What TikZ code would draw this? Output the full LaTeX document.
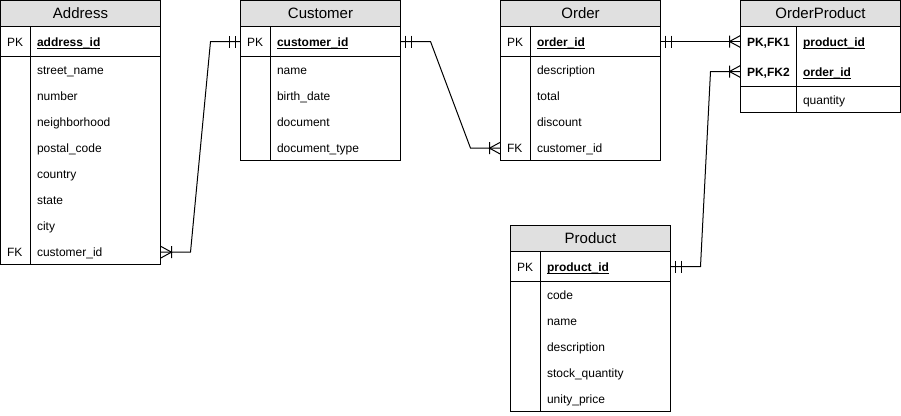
\documentclass[tikz,border=0pt]{standalone}
\usepackage{fontspec}
\setmainfont{Liberation Sans}
\usepackage{xcolor}
\usepackage{tikz}
\usetikzlibrary{positioning, calc}

\definecolor{hdrgray}{HTML}{E0E0E0}
\newcommand{\keyfield}[1]{\setbox0\hbox{\bfseries #1}\rlap{\vrule height -1.3pt depth 2.3pt width \wd0}\box0}

\begin{document}
\begin{tikzpicture}[
    x=1pt, y=-1pt, line width=1pt,
    tbl_head/.style={draw, fill=hdrgray, minimum width=160, minimum height=26, anchor=north west,
        inner sep=0, outer sep=0, text depth=0pt, font=\fontsize{15}{15}\selectfont},
    tbl_box/.style={draw, minimum width=160, anchor=north west, inner sep=0, outer sep=0},
    field_style/.style={anchor=base west, inner sep=0, font=\fontsize{12}{12}\selectfont},
    bold_style/.style={field_style, font=\fontsize{12}{12}\selectfont\bfseries},
    ermandone/.pic={\draw (5,-6) -- (5,6) (11,-6) -- (11,6);},
    ermany/.pic={\draw (0,-6) -- (11,0) -- (0,6) (11,-6) -- (11,6);}
]
    \useasboundingbox (0,0) rectangle (901,415);

    % Address
    \node[tbl_head] (addr-h) at (0.5,0.5) {Address};
    \node[tbl_box, minimum height=30] (addr-k) at (addr-h.south west) {};
    \node[tbl_box, minimum height=208] (addr-b) at (addr-k.south west) {};
    \draw ($(addr-k.north west)+(30,0)$) -- ($(addr-b.south west)+(30,0)$);
    \node[field_style] (addr-pk) at ($(addr-k.west)+(6,4.8)$) {PK};
    \node[bold_style] (addr-id) at ($(addr-k.west)+(36,4.8)$) {\keyfield{address\_id}};
    \foreach \fld [count=\i] in {street\_name, number, neighborhood, postal\_code, country, state, city, customer\_id}
        \node[field_style] (addr-\i) at ($(addr-b.north west)+(36,\i*26-13+4.8)$) {\fld};
    \node[field_style] (addr-fk) at ($(addr-b.north west)+(6,8*26-13+4.8)$) {FK};

    % Customer
    \node[tbl_head] (cust-h) at (240.5,0.5) {Customer};
    \node[tbl_box, minimum height=30] (cust-k) at (cust-h.south west) {};
    \node[tbl_box, minimum height=104] (cust-b) at (cust-k.south west) {};
    \draw ($(cust-k.north west)+(30,0)$) -- ($(cust-b.south west)+(30,0)$);
    \node[field_style] (cust-pk) at ($(cust-k.west)+(6,4.8)$) {PK};
    \node[bold_style] (cust-id) at ($(cust-k.west)+(36,4.8)$) {\keyfield{customer\_id}};
    \foreach \fld [count=\i] in {name, birth\_date, document, document\_type}
        \node[field_style] (cust-\i) at ($(cust-b.north west)+(36,\i*26-13+4.8)$) {\fld};

    % Order
    \node[tbl_head] (ord-h) at (500.5,0.5) {Order};
    \node[tbl_box, minimum height=30] (ord-k) at (ord-h.south west) {};
    \node[tbl_box, minimum height=104] (ord-b) at (ord-k.south west) {};
    \draw ($(ord-k.north west)+(30,0)$) -- ($(ord-b.south west)+(30,0)$);
    \node[field_style] (ord-pk) at ($(ord-k.west)+(6,4.8)$) {PK};
    \node[bold_style] (ord-id) at ($(ord-k.west)+(36,4.8)$) {\keyfield{order\_id}};
    \foreach \fld [count=\i] in {description, total, discount, customer\_id}
        \node[field_style] (ord-\i) at ($(ord-b.north west)+(36,\i*26-13+4.8)$) {\fld};
    \node[field_style] (ord-fk) at ($(ord-b.north west)+(6,4*26-13+4.8)$) {FK};

    % OrderProduct
    \node[tbl_head] (op-h) at (740.5,0.5) {OrderProduct};
    \node[tbl_box, minimum height=60] (op-k) at (op-h.south west) {};
    \node[tbl_box, minimum height=26] (op-b) at (op-k.south west) {};
    \draw ($(op-k.north west)+(56,0)$) -- ($(op-b.south west)+(56,0)$);
    \coordinate (op-r1) at ($(op-k.north west)+(0,15)$);
    \coordinate (op-r2) at ($(op-k.north west)+(0,45)$);
    \node[bold_style] (op-pf1) at ($(op-r1)+(6,4.8)$) {PK,FK1};
    \node[bold_style] (op-pid) at ($(op-r1)+(62,4.8)$) {\keyfield{product\_id}};
    \node[bold_style] (op-pf2) at ($(op-r2)+(6,4.8)$) {PK,FK2};
    \node[bold_style] (op-oid) at ($(op-r2)+(62,4.8)$) {\keyfield{order\_id}};
    \node[field_style] (op-1) at ($(op-b.west)+(62,4.8)$) {quantity};

    % Product
    \node[tbl_head] (prod-h) at (510.5,225.5) {Product};
    \node[tbl_box, minimum height=30] (prod-k) at (prod-h.south west) {};
    \node[tbl_box, minimum height=130] (prod-b) at (prod-k.south west) {};
    \draw ($(prod-k.north west)+(30,0)$) -- ($(prod-b.south west)+(30,0)$);
    \node[field_style] (prod-pk) at ($(prod-k.west)+(6,4.8)$) {PK};
    \node[bold_style] (prod-id) at ($(prod-k.west)+(36,4.8)$) {\keyfield{product\_id}};
    \foreach \fld [count=\i] in {code, name, description, stock\_quantity, unity\_price}
        \node[field_style] (prod-\i) at ($(prod-b.north west)+(36,\i*26-13+4.8)$) {\fld};

    % Relations
    \draw (addr-fk -| addr-b.east) -- ++(30,0) -- ($(cust-k.west)+(-30,0)$) -- (cust-k.west);
    \draw (cust-k.east) -- ++(30,0) -- ($(ord-fk -| ord-b.west)+(-30,0)$) -- (ord-fk -| ord-b.west);
    \draw (ord-k.east) -- (op-r1);
    \draw (prod-k.east) -- ++(30,0) -- ($(op-r2)+(-30,0)$) -- (op-r2);

    % Cardinality marks
    \pic at (addr-fk -| addr-b.east) {ermany};
    \pic[rotate=180] at (cust-k.west) {ermandone};
    \pic at (cust-k.east) {ermandone};
    \pic[rotate=180] at (ord-fk -| ord-b.west) {ermany};
    \pic at (ord-k.east) {ermandone};
    \pic[rotate=180] at (op-r1) {ermany};
    \pic[rotate=180] at (op-r2) {ermany};
    \pic at (prod-k.east) {ermandone};
\end{tikzpicture}
\end{document}
